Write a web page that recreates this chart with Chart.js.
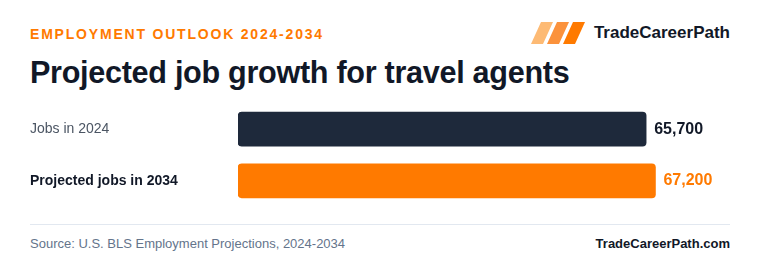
<!DOCTYPE html>
<html>
<head>
<meta charset="utf-8">
<script src="https://cdn.jsdelivr.net/npm/chart.js@4.4.1/dist/chart.umd.min.js"></script>
<style>
  html, body { margin: 0; padding: 0; background: #fff; }
  body { width: 760px; height: 280px; position: relative; overflow: hidden;
         font-family: "Liberation Sans", Arial, sans-serif; }
  .kicker { position: absolute; left: 30px; top: 26px; font-size: 14px; font-weight: bold;
            letter-spacing: 1.8px; color: #ff7a00; }
  .title { position: absolute; left: 30px; top: 55px; font-size: 30.6px; font-weight: bold;
           color: #111827; letter-spacing: -0.3px; }
  .logo { position: absolute; right: 30px; top: 22px; display: flex; align-items: center; }
  .logo span { font-size: 17px; font-weight: bold; color: #111827; margin-left: 9px; }
  .chart-box { position: absolute; left: 30px; top: 95px; width: 700px; height: 120px; }
  .rule { position: absolute; left: 30px; width: 700px; top: 224px; height: 1px; background: #e2e8f0; }
  .source { position: absolute; left: 30px; top: 236px; font-size: 13px; color: #64748b; }
  .site { position: absolute; right: 30px; top: 236px; font-size: 13px; font-weight: bold; color: #111827; }
</style>
</head>
<body>
<div class="kicker">EMPLOYMENT OUTLOOK 2024-2034</div>
<div class="title">Projected job growth for travel agents</div>
<div class="logo">
  <svg width="54" height="22" viewBox="0 0 54 22">
    <polygon points="10,0 22,0 12,22 0,22" fill="#fdba74"/>
    <polygon points="26,0 38,0 28,22 16,22" fill="#fb923c"/>
    <polygon points="42,0 54,0 44,22 32,22" fill="#ff7a00"/>
  </svg>
  <span>TradeCareerPath</span>
</div>
<div class="chart-box"><canvas id="jobsChart"></canvas></div>
<div class="rule"></div>
<div class="source">Source: U.S. BLS Employment Projections, 2024-2034</div>
<div class="site">TradeCareerPath.com</div>
<script>
var categories = ['Jobs in 2024', 'Projected jobs in 2034'];
var jobs = [65700, 67200];
var barColors = ['#1e293b', '#ff7a00'];
var labelColors = ['#111827', '#ff7a00'];

var valueLabels = {
    id: 'valueLabels',
    afterDatasetsDraw: function(chart) {
        var ctx = chart.ctx;
        var meta = chart.getDatasetMeta(0);
        ctx.save();
        ctx.font = 'bold 16px "Liberation Sans", Arial, sans-serif';
        ctx.textBaseline = 'middle';
        ctx.textAlign = 'left';
        meta.data.forEach(function(bar, i) {
            ctx.fillStyle = labelColors[i];
            ctx.fillText(jobs[i].toLocaleString('en-US'), bar.x + 8, bar.y);
        });
        ctx.restore();
    }
};

var ctx = document.getElementById('jobsChart').getContext('2d');
var jobsChart = new Chart(ctx, {
    type: 'bar',
    data: {
        labels: categories,
        datasets: [{
            data: jobs,
            backgroundColor: barColors,
            borderRadius: 4,
            borderSkipped: false,
            barThickness: 34
        }]
    },
    options: {
        indexAxis: 'y',
        responsive: true,
        maintainAspectRatio: false,
        animation: false,
        layout: { padding: 0 },
        plugins: { legend: { display: false }, tooltip: { enabled: false } },
        scales: {
            x: {
                min: 0,
                max: 79200,
                display: false
            },
            y: {
                grid: { display: false },
                border: { display: false },
                afterFit: function(scale) { scale.width = 208; },
                ticks: {
                    crossAlign: 'far',
                    padding: 0,
                    color: function(c) { return c.index === 1 ? '#111827' : '#4b5563'; },
                    font: function(c) {
                        return {
                            family: '"Liberation Sans", Arial, sans-serif',
                            size: 14,
                            weight: c.index === 1 ? 'bold' : 'normal'
                        };
                    }
                }
            }
        }
    },
    plugins: [valueLabels]
});
</script>
</body>
</html>
